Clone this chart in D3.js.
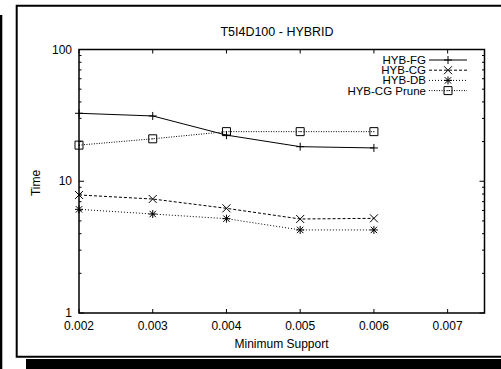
<!DOCTYPE html>
<html>
<head>
<meta charset="utf-8">
<script src="https://cdn.jsdelivr.net/npm/d3@7"></script>
<style>
  body { margin: 0; background: #fff; }
  svg { display: block; font-family: "Liberation Sans", Arial, sans-serif; }
</style>
</head>
<body>
<svg id="chart" width="501" height="369"></svg>
<script>
// chart values
const support = [0.002, 0.003, 0.004, 0.005, 0.006];
const hybFG = [32.8, 31.3, 22.4, 18.3, 17.9];
const hybCG = [7.87, 7.33, 6.23, 5.17, 5.23];
const hybDB = [6.12, 5.64, 5.2, 4.27, 4.27];
const hybCGPrune = [18.8, 21.0, 23.8, 23.8, 23.8];

const xTicks = [0.002, 0.003, 0.004, 0.005, 0.006, 0.007];
const yTicks = [1, 10, 100];
const seriesNames = ['HYB-FG', 'HYB-CG', 'HYB-DB', 'HYB-CG Prune'];

const svg = d3.select('#chart');

// page frame and the dark strips around it
svg.append('rect').attr('x', 0).attr('y', 15).attr('width', 2.3).attr('height', 354).attr('fill', '#000');
svg.append('rect').attr('x', 26).attr('y', 359).attr('width', 475).attr('height', 10).attr('fill', '#000');
svg.append('path')
    .attr('d', 'M510,5.7 H16.7 V356.8 H510')
    .attr('fill', 'none').attr('stroke', '#000').attr('stroke-width', 2);

const plotL = 79, plotR = 484.5, plotT = 49.5, plotB = 313;

const x = d3.scaleLinear().domain([0.002, 0.0075]).range([plotL, plotR]);
const y = d3.scaleLog().domain([1, 100]).range([plotB, plotT]);

// ticks (inward, mirrored like gnuplot)
const g = svg.append('g');
xTicks.forEach(t => {
    g.append('line').attr('x1', x(t)).attr('x2', x(t)).attr('y1', plotB).attr('y2', plotB - 4);
    g.append('line').attr('x1', x(t)).attr('x2', x(t)).attr('y1', plotT).attr('y2', plotT + 4);
});
const minor = [];
for (let d = 1; d < 100; d *= 10) for (let k = 2; k <= 9; k++) minor.push(d * k);
yTicks.forEach(t => {
    g.append('line').attr('x1', plotL).attr('x2', plotL + 5).attr('y1', y(t)).attr('y2', y(t));
    g.append('line').attr('x1', plotR).attr('x2', plotR - 5).attr('y1', y(t)).attr('y2', y(t));
});
minor.forEach(t => {
    g.append('line').attr('x1', plotL).attr('x2', plotL + 2.5).attr('y1', y(t)).attr('y2', y(t));
    g.append('line').attr('x1', plotR).attr('x2', plotR - 2.5).attr('y1', y(t)).attr('y2', y(t));
});
g.selectAll('line').attr('stroke', '#000').attr('stroke-width', 1);

svg.append('rect')
    .attr('x', plotL).attr('y', plotT).attr('width', plotR - plotL).attr('height', plotB - plotT)
    .attr('fill', 'none').attr('stroke', '#000').attr('stroke-width', 1.5);

// tick labels
svg.selectAll('.xl').data(xTicks).enter().append('text')
    .attr('x', d => x(d)).attr('y', 330)
    .attr('text-anchor', 'middle').attr('font-size', 12)
    .text(d => d3.format('.3f')(d));
svg.selectAll('.yl').data(yTicks).enter().append('text')
    .attr('x', 72).attr('y', d => y(d) + 4)
    .attr('text-anchor', 'end').attr('font-size', 12)
    .text(d => d);

// titles
svg.append('text').attr('x', 277).attr('y', 36).attr('text-anchor', 'middle')
    .attr('font-size', 12.5).text('T5I4D100 - HYBRID');
svg.append('text').attr('x', 281.5).attr('y', 348).attr('text-anchor', 'middle')
    .attr('font-size', 12).text('Minimum Support');
svg.append('text').attr('transform', 'translate(40,183) rotate(-90)')
    .attr('text-anchor', 'middle').attr('font-size', 12).text('Time');

// point shapes
function drawMarker(sel, kind, cx, cy) {
    const s = 4;
    const p = sel.append('path').attr('fill', 'none').attr('stroke', '#000').attr('stroke-width', 1);
    if (kind === 'plus') p.attr('d', `M${cx - s},${cy}H${cx + s}M${cx},${cy - s}V${cy + s}`);
    if (kind === 'cross') p.attr('d', `M${cx - s},${cy - s}L${cx + s},${cy + s}M${cx - s},${cy + s}L${cx + s},${cy - s}`);
    if (kind === 'star') p.attr('d', `M${cx - s},${cy}H${cx + s}M${cx},${cy - s}V${cy + s}M${cx - 3.2},${cy - 3.2}L${cx + 3.2},${cy + 3.2}M${cx - 3.2},${cy + 3.2}L${cx + 3.2},${cy - 3.2}`);
    if (kind === 'box') {
        p.attr('d', `M${cx - s},${cy - s}h${2 * s}v${2 * s}h${-2 * s}Z`);
        sel.append('rect').attr('x', cx - 0.5).attr('y', cy - 0.5).attr('width', 1).attr('height', 1).attr('fill', '#000');
    }
}

const series = [
    { name: seriesNames[0], values: hybFG, dash: null, marker: 'plus' },
    { name: seriesNames[1], values: hybCG, dash: '3,2', marker: 'cross' },
    { name: seriesNames[2], values: hybDB, dash: '1,2', marker: 'star' },
    { name: seriesNames[3], values: hybCGPrune, dash: '1,1.5', marker: 'box' }
];

const line = d3.line().x(d => x(d[0])).y(d => y(d[1]));

series.forEach((s, i) => {
    const pts = support.map((v, j) => [v, s.values[j]]);
    svg.append('path').datum(pts).attr('d', line)
        .attr('fill', 'none').attr('stroke', '#000').attr('stroke-width', 1)
        .attr('stroke-dasharray', s.dash);
    const mg = svg.append('g');
    pts.forEach(p => drawMarker(mg, s.marker, x(p[0]), y(p[1])));

    // legend row
    const ly = 60 + i * 10.2;
    svg.append('text').attr('x', 426).attr('y', ly + 4).attr('text-anchor', 'end')
        .attr('font-size', 11.5).text(s.name);
    svg.append('line').attr('x1', 429).attr('x2', 467).attr('y1', ly).attr('y2', ly)
        .attr('stroke', '#000').attr('stroke-width', 1).attr('stroke-dasharray', s.dash);
    drawMarker(svg.append('g'), s.marker, 448, ly);
});
</script>
</body>
</html>
